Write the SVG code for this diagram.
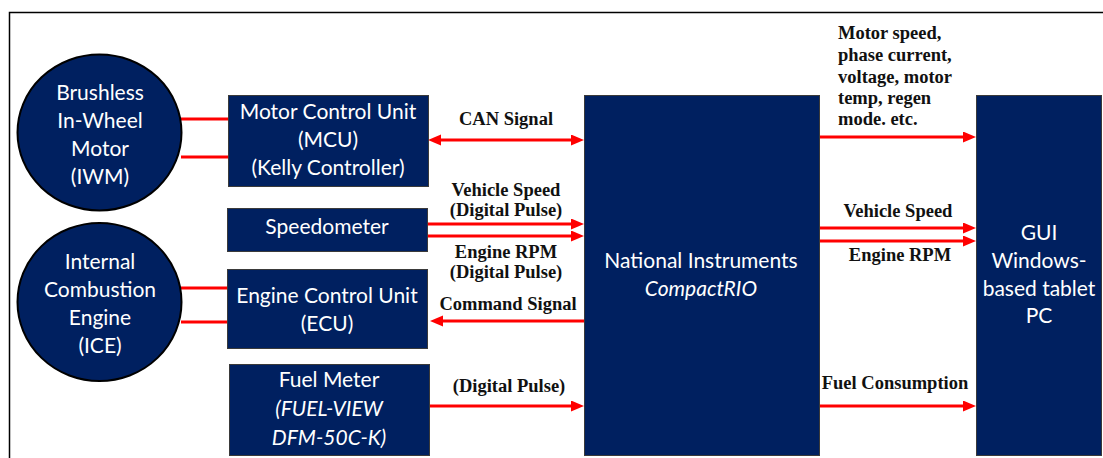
<svg xmlns="http://www.w3.org/2000/svg" width="1103" height="458" viewBox="0 0 1103 458">
<style>
.node{fill:#002060;stroke:#3a3a3a;stroke-width:1}
.circ{fill:#002060;stroke:#000;stroke-width:2}
.nt{font-family:Lato,"Liberation Sans",sans-serif;font-size:21px;fill:#fff;text-anchor:middle}
.it{font-style:italic}
.lbl{font-family:"Liberation Serif","Times New Roman",serif;font-size:18.5px;font-weight:bold;fill:#111}
.mid{text-anchor:middle}
.wire{stroke:#ff0000;stroke-width:3;fill:none}
</style>
<defs>
<marker id="ah" markerUnits="userSpaceOnUse" markerWidth="14" markerHeight="12" refX="0" refY="5.5" orient="auto-start-reverse">
<path d="M0,0 L13,5.5 L0,11 z" fill="#ff0000"/>
</marker>
</defs>
<rect width="1103" height="458" fill="#fff"/>
<path d="M9.5,458 L9.5,12.5 L1103,12.5" fill="none" stroke="#000" stroke-width="1.5"/>

<g id="connectors">
<line class="wire" x1="181" y1="119" x2="228" y2="119"/>
<line class="wire" x1="181" y1="157" x2="228" y2="157"/>
<line class="wire" x1="181" y1="288" x2="227" y2="288"/>
<line class="wire" x1="181" y1="322" x2="227" y2="322"/>
<line class="wire" x1="441" y1="140" x2="571" y2="140" marker-start="url(#ah)" marker-end="url(#ah)"/>
<line class="wire" x1="428" y1="224" x2="571" y2="224" marker-end="url(#ah)"/>
<line class="wire" x1="428" y1="236" x2="571" y2="236" marker-end="url(#ah)"/>
<line class="wire" x1="584" y1="321" x2="443" y2="321" marker-end="url(#ah)"/>
<line class="wire" x1="429" y1="406" x2="571" y2="406" marker-end="url(#ah)"/>
<line class="wire" x1="819" y1="137" x2="963" y2="137" marker-end="url(#ah)"/>
<line class="wire" x1="819" y1="228" x2="963" y2="228" marker-end="url(#ah)"/>
<line class="wire" x1="819" y1="241" x2="963" y2="241" marker-end="url(#ah)"/>
<line class="wire" x1="819" y1="406" x2="963" y2="406" marker-end="url(#ah)"/>
<text class="lbl mid" x="506" y="125">CAN Signal</text>
<text class="lbl mid" x="506" y="196">Vehicle Speed</text>
<text class="lbl mid" x="506" y="216">(Digital Pulse)</text>
<text class="lbl mid" x="506" y="258">Engine RPM</text>
<text class="lbl mid" x="506" y="278">(Digital Pulse)</text>
<text class="lbl mid" x="508" y="310">Command Signal</text>
<text class="lbl mid" x="509" y="392">(Digital Pulse)</text>
<text class="lbl" x="838" y="39">Motor speed,</text>
<text class="lbl" x="838" y="61">phase current,</text>
<text class="lbl" x="838" y="83">voltage, motor</text>
<text class="lbl" x="838" y="104">temp, regen</text>
<text class="lbl" x="838" y="125">mode. etc.</text>
<text class="lbl mid" x="898" y="217">Vehicle Speed</text>
<text class="lbl mid" x="900" y="261">Engine RPM</text>
<text class="lbl mid" x="895" y="389">Fuel Consumption</text>
</g>

<g id="iwm">
<ellipse class="circ" cx="99.5" cy="132.5" rx="82" ry="78"/>
<text class="nt" x="100" y="100">Brushless</text>
<text class="nt" x="100" y="128">In-Wheel</text>
<text class="nt" x="100" y="156">Motor</text>
<text class="nt" x="100" y="184">(IWM)</text>
</g>
<g id="ice">
<ellipse class="circ" cx="99.5" cy="302" rx="82" ry="79"/>
<text class="nt" x="100" y="269">Internal</text>
<text class="nt" x="100" y="297">Combustion</text>
<text class="nt" x="100" y="325">Engine</text>
<text class="nt" x="100" y="353">(ICE)</text>
</g>
<g id="mcu">
<rect class="node" x="228.5" y="95.5" width="200" height="91"/>
<text class="nt" x="328" y="119">Motor Control Unit</text>
<text class="nt" x="328" y="147">(MCU)</text>
<text class="nt" x="328" y="175">(Kelly Controller)</text>
</g>
<g id="speedometer">
<rect class="node" x="227.5" y="208.5" width="200" height="43"/>
<text class="nt" x="327" y="234">Speedometer</text>
</g>
<g id="ecu">
<rect class="node" x="227.5" y="269.5" width="200" height="79"/>
<text class="nt" x="327" y="303">Engine Control Unit</text>
<text class="nt" x="327" y="331">(ECU)</text>
</g>
<g id="fuelmeter">
<rect class="node" x="229.5" y="364.5" width="200" height="91"/>
<text class="nt" x="329" y="387">Fuel Meter</text>
<text class="nt it" x="329" y="416">(FUEL-VIEW</text>
<text class="nt it" x="329" y="445">DFM-50C-K)</text>
</g>
<g id="ni">
<rect class="node" x="584.5" y="95.5" width="235" height="360"/>
<text class="nt" x="701" y="268">National Instruments</text>
<text class="nt it" x="701" y="296">CompactRIO</text>
</g>
<g id="gui">
<rect class="node" x="976.5" y="95.5" width="125" height="360"/>
<text class="nt" x="1039" y="240">GUI</text>
<text class="nt" x="1039" y="268">Windows-</text>
<text class="nt" x="1039" y="296">based tablet</text>
<text class="nt" x="1039" y="323">PC</text>
</g>
</svg>
